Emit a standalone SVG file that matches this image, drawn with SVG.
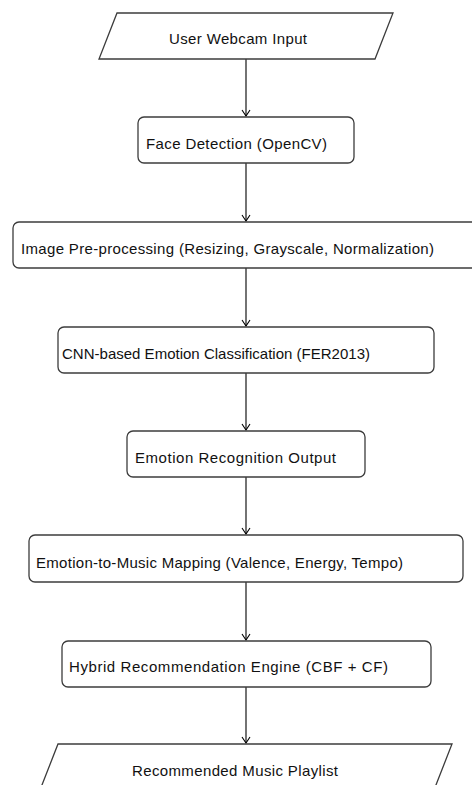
<svg xmlns="http://www.w3.org/2000/svg" width="472" height="785" viewBox="0 0 472 785">
<defs>
<style>
.box{fill:#fff;stroke:#3c3c3c;stroke-width:1.3}
.lbl{font-family:"Liberation Sans",Arial,sans-serif;font-size:15px;fill:#111}
.conn{stroke:#000;stroke-width:1.1;fill:none}
</style>
<marker id="arr" viewBox="-7 -5 8 10" markerWidth="8" markerHeight="10" refX="0" refY="0" orient="auto" markerUnits="userSpaceOnUse">
<path d="M-6,-4 L0,0 L-6,4" fill="none" stroke="#000" stroke-width="1.1"/>
</marker>
</defs>
<rect width="472" height="785" fill="#fff"/>
<g id="connectors">
<line class="conn" x1="246" y1="59" x2="246" y2="116" marker-end="url(#arr)"/>
<line class="conn" x1="246" y1="163" x2="246" y2="221" marker-end="url(#arr)"/>
<line class="conn" x1="246" y1="268" x2="246" y2="326" marker-end="url(#arr)"/>
<line class="conn" x1="246" y1="373" x2="246" y2="430" marker-end="url(#arr)"/>
<line class="conn" x1="246" y1="477" x2="246" y2="534" marker-end="url(#arr)"/>
<line class="conn" x1="246" y1="582" x2="246" y2="640" marker-end="url(#arr)"/>
<line class="conn" x1="246" y1="687" x2="246" y2="743" marker-end="url(#arr)"/>
</g>
<g id="n1">
<polygon class="box" points="117,13 393,13 375,59 99,59"/>
<text class="lbl" x="169" y="44" textLength="138" lengthAdjust="spacing">User Webcam Input</text>
</g>
<g id="n2">
<rect class="box" x="138" y="117" width="216" height="46" rx="6"/>
<text class="lbl" x="146" y="148.7" textLength="181" lengthAdjust="spacing">Face Detection (OpenCV)</text>
</g>
<g id="n3">
<rect class="box" x="13" y="222" width="470" height="46" rx="6"/>
<text class="lbl" x="21" y="253.7" textLength="413" lengthAdjust="spacing">Image Pre-processing (Resizing, Grayscale, Normalization)</text>
</g>
<g id="n4">
<rect class="box" x="58" y="327" width="376" height="46" rx="6"/>
<text class="lbl" x="62" y="358.7" textLength="308" lengthAdjust="spacing">CNN-based Emotion Classification (FER2013)</text>
</g>
<g id="n5">
<rect class="box" x="127" y="431" width="238" height="46" rx="6"/>
<text class="lbl" x="135" y="462.7" textLength="201" lengthAdjust="spacing">Emotion Recognition Output</text>
</g>
<g id="n6">
<rect class="box" x="29" y="535" width="434" height="47" rx="6"/>
<text class="lbl" x="36" y="567.5" textLength="367" lengthAdjust="spacing">Emotion-to-Music Mapping (Valence, Energy, Tempo)</text>
</g>
<g id="n7">
<rect class="box" x="62" y="641" width="369" height="46" rx="6"/>
<text class="lbl" x="69" y="672" textLength="319" lengthAdjust="spacing">Hybrid Recommendation Engine (CBF + CF)</text>
</g>
<g id="n8">
<polygon class="box" points="58,744 452,744 434,790 40,790"/>
<text class="lbl" x="132" y="776" textLength="206" lengthAdjust="spacing">Recommended Music Playlist</text>
</g>
</svg>
